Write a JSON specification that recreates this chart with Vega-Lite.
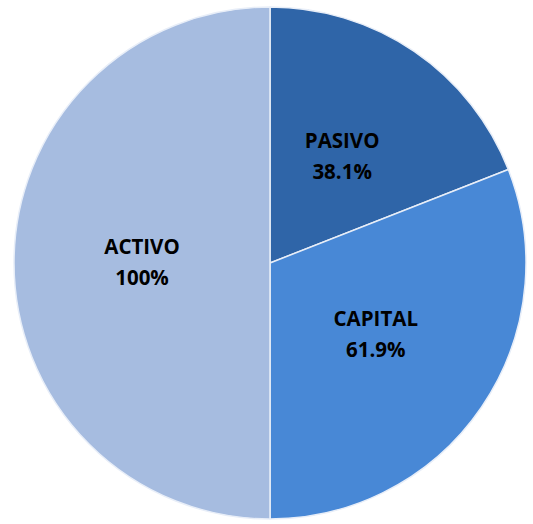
{
  "$schema": "https://vega.github.io/schema/vega-lite/v6.json",
  "width": 533,
  "height": 524,
  "autosize": {"type": "fit", "contains": "padding"},
  "padding": {"left": 7, "top": 2, "right": 0, "bottom": 0},
  "background": "white",
  "view": {"stroke": null},
  "data": {
    "values": [
      {"cuenta": "PASIVO", "valor": 38.1, "etiqueta": "PASIVO\n38.1%", "orden": 1},
      {"cuenta": "CAPITAL", "valor": 61.9, "etiqueta": "CAPITAL\n61.9%", "orden": 2},
      {"cuenta": "ACTIVO", "valor": 100, "etiqueta": "ACTIVO\n100%", "orden": 3}
    ]
  },
  "encoding": {
    "theta": {"field": "valor", "type": "quantitative", "stack": true},
    "order": {"field": "orden", "type": "quantitative"}
  },
  "layer": [
    {
      "mark": {"type": "arc", "outerRadius": 256, "stroke": "#e8eef8", "strokeWidth": 1.5},
      "encoding": {
        "color": {
          "field": "cuenta",
          "type": "nominal",
          "scale": {"domain": ["PASIVO", "CAPITAL", "ACTIVO"], "range": ["#2f65a8", "#4888d6", "#a6bce0"]},
          "legend": null
        }
      }
    },
    {
      "mark": {"type": "text", "radius": 128, "dy": -15, "font": "Open Sans", "fontWeight": "bold", "fontSize": 20.5, "color": "black", "lineBreak": "\n", "lineHeight": 31, "align": "center", "baseline": "middle"},
      "encoding": {
        "text": {"field": "etiqueta", "type": "nominal"}
      }
    }
  ]
}
